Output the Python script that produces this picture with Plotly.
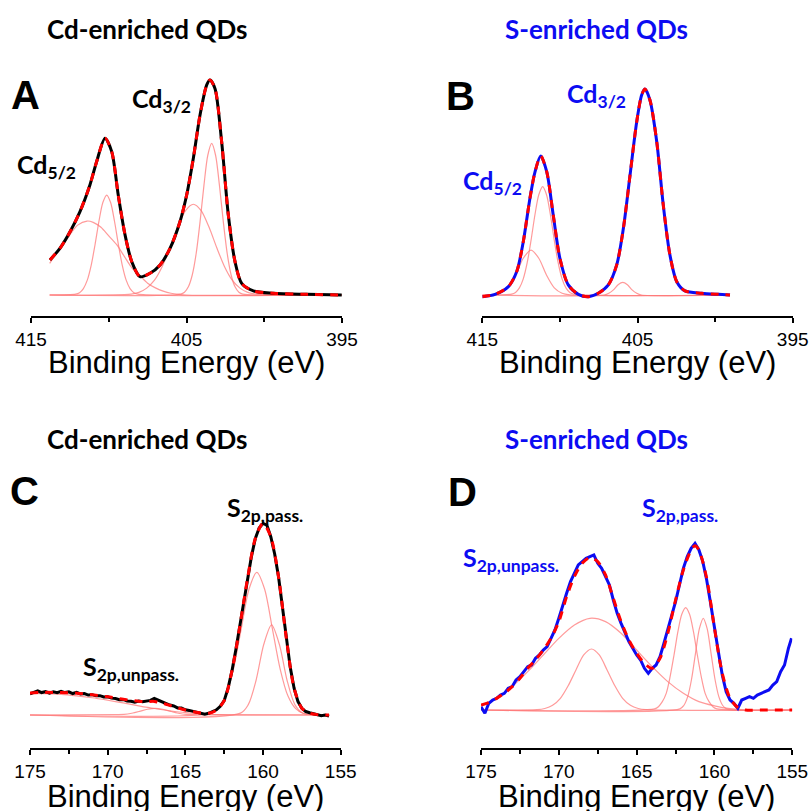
import plotly.graph_objects as go

# ---------------- DATA ----------------
# Panel A : Cd 3d, Cd-enriched QDs (binding energy eV, normalised intensity)
a_energy = [413.78, 413.14, 412.49, 411.85, 411.21, 410.78, 410.24, 409.81, 409.39, 408.95,
            408.52, 407.99, 407.35, 406.70, 406.06, 405.42, 404.99, 404.56, 404.13, 403.70,
            403.49, 403.17, 402.74, 402.31, 401.88, 401.45, 400.70, 399.42, 397.27, 395.02]
a_counts = [0.163, 0.217, 0.294, 0.388, 0.512, 0.620, 0.729, 0.667, 0.465, 0.279,
            0.155, 0.085, 0.101, 0.140, 0.217, 0.341, 0.465, 0.636, 0.837, 0.977,
            1.000, 0.961, 0.713, 0.372, 0.155, 0.054, 0.019, 0.008, 0.003, 0.000]
a_c1_e = [413.8, 413.5, 413.0, 412.5, 412.0, 411.4, 411.0, 410.5, 410.0, 409.5, 409.0, 408.5,
          408.0, 407.5, 407.0, 406.5, 406.0, 405.5, 405.0, 395.0]
a_c1_v = [0.147, 0.180, 0.225, 0.280, 0.325, 0.344, 0.338, 0.315, 0.275, 0.235, 0.180, 0.125,
          0.090, 0.055, 0.033, 0.018, 0.008, 0.003, 0.000, 0.000]
a_c2_e = [413.8, 412.13, 411.88, 411.63, 411.38, 411.13, 410.88, 410.63, 410.38, 410.13,
          409.88, 409.63, 409.38, 409.13, 408.88, 408.63, 408.38, 408.13, 395.0]
a_c2_v = [0.0, 0.004, 0.011, 0.030, 0.069, 0.138, 0.235, 0.343, 0.430, 0.465,
          0.430, 0.343, 0.235, 0.138, 0.069, 0.030, 0.011, 0.004, 0.0]
a_c3_e = [413.8, 408.56, 408.06, 407.56, 407.06, 406.56, 406.06, 405.56, 405.06, 404.56,
          404.06, 403.56, 403.06, 402.56, 402.06, 401.56, 401.06, 400.56, 395.0]
a_c3_v = [0.0, 0.004, 0.012, 0.032, 0.069, 0.133, 0.221, 0.317, 0.393, 0.422,
          0.393, 0.317, 0.221, 0.133, 0.069, 0.032, 0.012, 0.004, 0.0]
a_c4_e = [413.8, 405.38, 405.13, 404.88, 404.63, 404.38, 404.13, 403.88, 403.63, 403.38,
          403.13, 402.88, 402.63, 402.38, 402.13, 401.88, 401.63, 401.38, 395.0]
a_c4_v = [0.0, 0.004, 0.013, 0.038, 0.093, 0.192, 0.339, 0.509, 0.650, 0.705,
          0.650, 0.509, 0.339, 0.192, 0.093, 0.038, 0.013, 0.004, 0.0]

# Panel B : Cd 3d, S-enriched QDs
b_energy = [415.0, 414.18, 413.32, 412.78, 412.36, 411.93, 411.60, 411.24, 410.85, 410.43,
            410.00, 409.46, 408.81, 408.17, 407.53, 406.88, 406.34, 405.91, 405.48, 405.05,
            404.73, 404.52, 404.20, 403.76, 403.34, 402.91, 402.47, 401.94, 400.86, 399.79, 399.04]
b_counts = [-0.008, 0.003, 0.039, 0.109, 0.248, 0.450, 0.574, 0.647, 0.574, 0.372,
            0.171, 0.047, 0.003, -0.008, 0.008, 0.047, 0.140, 0.310, 0.558, 0.806,
            0.930, 0.958, 0.907, 0.713, 0.419, 0.186, 0.062, 0.019, 0.008, 0.003, 0.0]
b_c1_e = [415.0, 414.36, 413.86, 413.36, 412.86, 412.36, 411.86, 411.36, 410.86, 410.36,
          409.86, 409.36, 399.04]
b_c1_v = [0.0, 0.001, 0.008, 0.033, 0.092, 0.171, 0.209, 0.171, 0.092, 0.033, 0.008, 0.001, 0.0]
b_c2_e = [415.0, 413.11, 412.86, 412.61, 412.36, 412.11, 411.86, 411.61, 411.36, 411.11,
          410.86, 410.61, 410.36, 410.11, 409.86, 409.61, 409.36, 409.11, 399.04]
b_c2_v = [0.0, 0.004, 0.012, 0.033, 0.075, 0.149, 0.254, 0.372, 0.466, 0.504,
          0.466, 0.372, 0.254, 0.149, 0.075, 0.033, 0.012, 0.004, 0.0]
b_c3_e = [415.0, 407.15, 406.85, 406.55, 406.25, 405.95, 405.65, 405.35, 405.05, 404.75, 399.04]
b_c3_v = [0.0, 0.0, 0.008, 0.024, 0.048, 0.059, 0.048, 0.024, 0.008, 0.0, 0.0]

# Panel C : S 2p, Cd-enriched QDs
c_energy = [175.00, 174.75, 174.50, 174.25, 174.00, 173.75, 173.50, 173.25, 173.00, 172.75,
            172.50, 172.25, 172.00, 171.75, 171.50, 171.25, 171.00, 170.75, 170.50, 170.25,
            170.00, 169.75, 169.50, 169.25, 169.00, 168.75, 168.50, 168.25, 168.00, 167.75,
            167.50, 167.25, 167.00, 166.75, 166.50, 166.25, 166.00, 165.75, 165.50, 165.25,
            165.00, 164.75, 164.50, 164.25, 164.00, 163.75, 163.50, 163.25, 163.00, 162.75,
            162.50, 162.25, 162.00, 161.75, 161.50, 161.25, 161.00, 160.75, 160.50, 160.25,
            160.00, 159.75, 159.50, 159.25, 159.00, 158.75, 158.50, 158.25, 158.00, 157.75,
            157.50, 157.25, 157.00, 156.75, 156.50, 156.25, 156.00, 155.75]
c_counts = [0.110, 0.118, 0.126, 0.117, 0.122, 0.114, 0.121, 0.116, 0.123, 0.117,
            0.121, 0.112, 0.118, 0.110, 0.112, 0.104, 0.106, 0.100, 0.101, 0.094,
            0.095, 0.088, 0.086, 0.080, 0.081, 0.073, 0.072, 0.067, 0.073, 0.069,
            0.074, 0.076, 0.086, 0.078, 0.066, 0.060, 0.052, 0.047, 0.037, 0.036,
            0.027, 0.024, 0.018, 0.013, 0.010, 0.004, 0.009, 0.016, 0.027, 0.045,
            0.075, 0.140, 0.230, 0.340, 0.460, 0.590, 0.710, 0.825, 0.920, 0.975,
            1.000, 0.990, 0.930, 0.840, 0.720, 0.560, 0.400, 0.250, 0.140, 0.070,
            0.035, 0.018, 0.012, 0.006, 0.004, -0.004, 0.000, -0.006]
c_fit_e = [175.0, 174.0, 173.0, 172.0, 171.0, 170.0, 169.0, 168.0, 167.5, 167.0, 166.5, 166.0,
           165.5, 165.0, 164.5, 164.0, 163.5, 163.0, 162.5, 162.0, 161.5, 161.0, 160.5, 160.0,
           159.5, 159.0, 158.5, 158.0, 157.5, 157.0, 156.5, 156.0, 155.75]
c_fit_v = [0.115, 0.118, 0.117, 0.114, 0.106, 0.095, 0.082, 0.072, 0.070, 0.071, 0.062, 0.050,
           0.038, 0.026, 0.017, 0.010, 0.009, 0.025, 0.075, 0.230, 0.460, 0.710, 0.920, 1.000,
           0.930, 0.720, 0.400, 0.140, 0.035, 0.010, 0.002, 0.0, 0.0]
c_c1_e = [175.0, 174.0, 173.0, 172.0, 171.0, 170.0, 169.0, 168.0, 167.0, 166.0, 165.0, 164.0,
          163.0, 162.0, 155.75]
c_c1_v = [0.113, 0.112, 0.108, 0.100, 0.090, 0.077, 0.063, 0.048, 0.034, 0.022, 0.012, 0.006,
          0.002, 0.0, 0.0]
c_c2_e = [175.0, 169.45, 168.95, 168.45, 167.95, 167.45, 166.95, 166.45, 165.95, 165.45,
          164.95, 164.45, 155.75]
c_c2_v = [0.0, 0.002, 0.003, 0.009, 0.019, 0.030, 0.035, 0.030, 0.019, 0.009, 0.003, 0.002, 0.0]
c_c3_e = [175.0, 163.4, 162.9, 162.4, 161.9, 161.4, 160.9, 160.4, 159.9, 159.4, 158.9, 158.4,
          157.9, 157.4, 155.75]
c_c3_v = [0.0, 0.008, 0.033, 0.100, 0.241, 0.451, 0.657, 0.744, 0.657, 0.451, 0.241, 0.100,
          0.033, 0.008, 0.0]
c_c4_e = [175.0, 161.45, 160.95, 160.45, 159.95, 159.45, 158.95, 158.45, 157.95, 157.45, 155.75]
c_c4_v = [0.0, 0.010, 0.054, 0.180, 0.369, 0.470, 0.369, 0.180, 0.054, 0.010, 0.0]

# Panel D : S 2p, S-enriched QDs
d_energy = [175.00, 174.75, 174.50, 174.25, 174.00, 173.75, 173.50, 173.25, 173.00, 172.75,
            172.50, 172.25, 172.00, 171.75, 171.50, 171.25, 171.00, 170.75, 170.50, 170.25,
            170.00, 169.75, 169.50, 169.25, 169.00, 168.75, 168.50, 168.25, 168.00, 167.75,
            167.50, 167.25, 167.00, 166.75, 166.50, 166.25, 166.00, 165.75, 165.50, 165.25,
            165.00, 164.75, 164.50, 164.25, 164.00, 163.75, 163.50, 163.25, 163.00, 162.75,
            162.50, 162.25, 162.00, 161.75, 161.50, 161.25, 161.00, 160.75, 160.50, 160.25,
            160.00, 159.75, 159.50, 159.25, 159.00, 158.75, 158.50, 158.25, 158.00, 157.75,
            157.50, 157.25, 157.00, 156.75, 156.50, 156.25, 156.00, 155.75, 155.50, 155.25, 155.05]
d_counts = [0.020, -0.020, 0.040, 0.060, 0.070, 0.090, 0.100, 0.130, 0.140, 0.180,
            0.200, 0.230, 0.260, 0.270, 0.310, 0.330, 0.360, 0.380, 0.430, 0.480,
            0.550, 0.630, 0.700, 0.770, 0.820, 0.870, 0.890, 0.910, 0.920, 0.930,
            0.880, 0.850, 0.800, 0.750, 0.660, 0.580, 0.520, 0.460, 0.410, 0.370,
            0.330, 0.300, 0.250, 0.220, 0.250, 0.270, 0.320, 0.400, 0.480, 0.560,
            0.650, 0.750, 0.850, 0.920, 0.970, 1.000, 0.960, 0.890, 0.780, 0.640,
            0.480, 0.350, 0.210, 0.110, 0.060, 0.040, 0.010, 0.060, 0.070, 0.080,
            0.070, 0.090, 0.100, 0.110, 0.120, 0.150, 0.170, 0.230, 0.270, 0.370, 0.430]
d_fit_e = [175.0, 174.5, 174.0, 173.5, 173.0, 172.5, 172.0, 171.5, 171.0, 170.5, 170.0, 169.5,
           169.0, 168.5, 168.0, 167.5, 167.0, 166.5, 166.0, 165.5, 165.0, 164.5, 164.0, 163.5,
           163.0, 162.5, 162.0, 161.5, 161.25, 161.0, 160.5, 160.0, 159.5, 159.0, 158.5, 158.0,
           157.0, 156.0, 155.0]
d_fit_v = [0.030, 0.045, 0.070, 0.100, 0.140, 0.190, 0.250, 0.300, 0.360, 0.430, 0.530, 0.680,
           0.800, 0.880, 0.915, 0.890, 0.810, 0.670, 0.530, 0.420, 0.340, 0.280, 0.250, 0.310,
           0.460, 0.660, 0.840, 0.960, 0.985, 0.960, 0.790, 0.490, 0.220, 0.070, 0.015, 0.0,
           0.0, 0.0, 0.0]
d_c1_e = [175.0, 174.0, 173.0, 172.0, 171.0, 170.0, 169.0, 168.0, 167.0, 166.0, 165.0, 164.0,
          163.0, 162.0, 161.0, 160.0, 159.0, 158.0, 155.0]
d_c1_v = [0.030, 0.070, 0.140, 0.230, 0.330, 0.430, 0.510, 0.550, 0.530, 0.460, 0.360, 0.260,
          0.170, 0.100, 0.050, 0.025, 0.008, 0.0, 0.0]
d_c2_e = [175.0, 171.4, 170.9, 170.4, 169.9, 169.4, 168.9, 168.4, 167.9, 167.4, 166.9, 166.4,
          165.9, 165.4, 164.9, 164.4, 155.0]
d_c2_v = [0.0, 0.002, 0.009, 0.028, 0.070, 0.145, 0.240, 0.330, 0.366, 0.330, 0.240, 0.145,
          0.070, 0.028, 0.009, 0.002, 0.0]
d_c3_e = [175.0, 163.85, 163.6, 163.35, 163.1, 162.85, 162.6, 162.35, 162.1, 161.85, 161.6,
          161.35, 161.1, 160.85, 160.6, 160.35, 160.1, 159.85, 155.0]
d_c3_v = [0.0, 0.007, 0.020, 0.050, 0.100, 0.200, 0.330, 0.470, 0.574, 0.614, 0.574,
          0.470, 0.330, 0.200, 0.100, 0.050, 0.020, 0.007, 0.0]
d_c4_e = [175.0, 162.22, 161.97, 161.72, 161.47, 161.22, 160.97, 160.72, 160.47, 160.22,
          159.97, 159.72, 159.47, 159.22, 155.0]
d_c4_v = [0.0, 0.007, 0.027, 0.080, 0.186, 0.340, 0.488, 0.550, 0.488, 0.340,
          0.186, 0.080, 0.027, 0.007, 0.0]

cd_ticks = [415, 405, 395]
cd_minor = [410, 400]
s_ticks = [175, 170, 165, 160, 155]
s_minor = [172.5, 167.5, 162.5, 157.5]

# ---------------- STYLE ----------------
W, H = 809, 811
BLUE = "#0c0cf2"
PINK = "rgba(255,120,120,0.75)"
RED = "#ff0000"
LABEL_FONT = "Lato"


def fx(p):
    return p / W


def fy(p):
    return 1 - p / H


fig = go.Figure()


def add_panel(ax, comps, data_e, data_v, data_col, fit_e, fit_v, data_shape):
    xa, ya = ("x", "y") if ax == 1 else (f"x{ax}", f"y{ax}")
    for e, v in comps:
        fig.add_trace(go.Scatter(x=e, y=v, mode="lines", xaxis=xa, yaxis=ya,
                                 line=dict(color=PINK, width=1.2, shape="spline", smoothing=0.8),
                                 showlegend=False, hoverinfo="skip"))
    fig.add_trace(go.Scatter(x=data_e, y=data_v, mode="lines", xaxis=xa, yaxis=ya,
                             line=dict(color=data_col, width=3, shape=data_shape, smoothing=0.8),
                             showlegend=False))
    fig.add_trace(go.Scatter(x=fit_e, y=fit_v, mode="lines", xaxis=xa, yaxis=ya,
                             line=dict(color=RED, width=3, dash="8px,7px", shape="spline",
                                       smoothing=0.8),
                             showlegend=False))


add_panel(1, [(a_c1_e, a_c1_v), (a_c2_e, a_c2_v), (a_c3_e, a_c3_v), (a_c4_e, a_c4_v)],
          a_energy, a_counts, "black", a_energy, a_counts, "spline")
add_panel(2, [(b_c1_e, b_c1_v), (b_c2_e, b_c2_v), (b_c3_e, b_c3_v)],
          b_energy, b_counts, BLUE, b_energy, b_counts, "spline")
add_panel(3, [(c_c1_e, c_c1_v), (c_c2_e, c_c2_v), (c_c3_e, c_c3_v), (c_c4_e, c_c4_v)],
          c_energy, c_counts, "black", c_fit_e, c_fit_v, "linear")
add_panel(4, [(d_c1_e, d_c1_v), (d_c2_e, d_c2_v), (d_c3_e, d_c3_v), (d_c4_e, d_c4_v)],
          d_energy, d_counts, BLUE, d_fit_e, d_fit_v, "linear")


def xaxis_cfg(left, right, rng, major, minor):
    return dict(domain=[fx(left), fx(right)], range=rng, showline=True, linecolor="black",
                linewidth=2, ticks="outside", ticklen=5, tickwidth=2, tickcolor="black",
                tickvals=major, ticktext=[str(t) for t in major], showgrid=False,
                zeroline=False, automargin=False,
                tickfont=dict(family="Liberation Sans, Arial", size=19, color="black"),
                minor=dict(tickvals=minor, ticks="outside", ticklen=4, tickwidth=2,
                           tickcolor="black", showgrid=False),
                fixedrange=True)


def yaxis_cfg(bottom, top, base, scale, anchor):
    return dict(domain=[fy(bottom), fy(top)],
                range=[-(bottom - base) / scale, (base - top) / scale],
                visible=False, fixedrange=True, anchor=anchor, automargin=False)


fig.update_layout(
    width=W, height=H, margin=dict(l=0, r=0, t=0, b=0, pad=0, autoexpand=False),
    paper_bgcolor="white", plot_bgcolor="white", showlegend=False,
    xaxis=dict(**xaxis_cfg(31, 342, [415, 395], cd_ticks, cd_minor), anchor="y"),
    yaxis=yaxis_cfg(316, 70, 295, 215, "x"),
    xaxis2=dict(**xaxis_cfg(482.3, 792.7, [415, 395], cd_ticks, cd_minor), anchor="y2"),
    yaxis2=yaxis_cfg(316, 70, 295, 215, "x2"),
    xaxis3=dict(**xaxis_cfg(30, 340.7, [175, 155], s_ticks, s_minor), anchor="y3"),
    yaxis3=yaxis_cfg(748, 470, 715, 191.7, "x3"),
    xaxis4=dict(**xaxis_cfg(481, 792.3, [175, 155], s_ticks, s_minor), anchor="y4"),
    yaxis4=yaxis_cfg(748, 470, 710, 166.7, "x4"),
)

ann = []


def text(x, y, s, size, color="black", family=LABEL_FONT, xanchor="center", yanchor="middle",
         weight="bold"):
    ann.append(dict(x=fx(x), y=fy(y), xref="paper", yref="paper", text=s, showarrow=False,
                    xanchor=xanchor, yanchor=yanchor, align="left", borderpad=0,
                    font=dict(family=family, size=size, color=color, weight=weight)))


# headers
text(146.5, 29, "Cd-enriched QDs", 26)
text(596.5, 29, "S-enriched QDs", 26, BLUE)
text(146.5, 439, "Cd-enriched QDs", 26)
text(596.5, 439, "S-enriched QDs", 26, BLUE)
# panel letters
for x, y, s in [(25, 95, "A"), (460.5, 96.5, "B"), (24.5, 491, "C"), (462.5, 491.5, "D")]:
    text(x, y, s, 40, family="Liberation Sans, Arial")
# peak labels
text(131, 100, "Cd<sub>3/2</sub>", 25, xanchor="left")
text(16, 166, "Cd<sub>5/2</sub>", 25, xanchor="left")
text(566, 95, "Cd<sub>3/2</sub>", 25, BLUE, xanchor="left")
text(462, 182, "Cd<sub>5/2</sub>", 25, BLUE, xanchor="left")
text(226, 509, "S<sub>2p,pass.</sub>", 25, xanchor="left")
text(82, 668, "S<sub>2p,unpass.</sub>", 25, xanchor="left")
text(641, 509, "S<sub>2p,pass.</sub>", 25, BLUE, xanchor="left")
text(462, 559, "S<sub>2p,unpass.</sub>", 25, BLUE, xanchor="left")
# axis titles
for cx, cy in [(186.5, 363), (637.5, 363), (185.4, 796), (636.6, 796)]:
    text(cx, cy, "Binding Energy (eV)", 31, family="Liberation Sans, Arial", weight="normal")

fig.update_layout(annotations=ann)
fig.write_html("out.html")
